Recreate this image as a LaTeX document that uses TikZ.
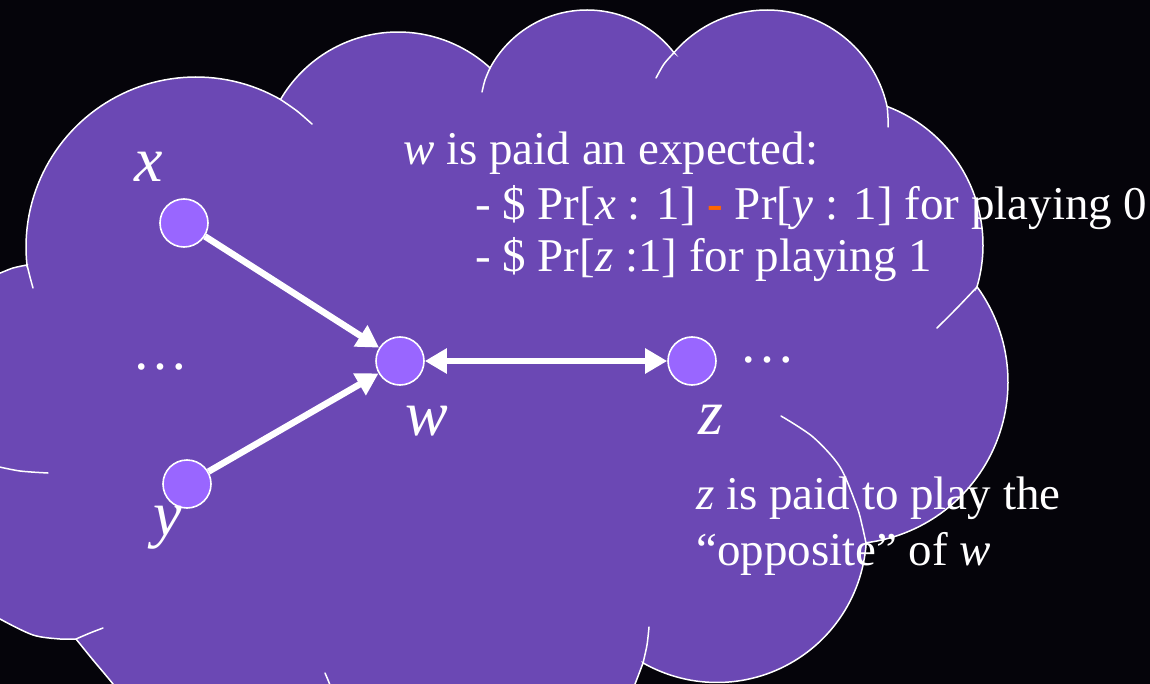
\documentclass[tikz,border=0pt]{standalone}
\usepackage{fontspec}
\setmainfont{Liberation Serif}
\usetikzlibrary{arrows.meta}
\definecolor{bgdark}{RGB}{5,4,10}
\definecolor{cloudpurple}{RGB}{107,72,180}
\definecolor{vertexpurple}{RGB}{153,102,255}
\definecolor{accent}{RGB}{255,102,0}

\tikzset{fattip/.tip={Triangle[length=22pt,width=24pt]}}

\begin{document}
\begin{tikzpicture}[x=1pt,y=-1pt,
  vertex/.style={circle, fill=vertexpurple, draw=white, line width=1.6pt,
                 minimum size=48pt, inner sep=0pt},
  edge/.style={white, line width=6.5pt},
  lbl/.style={text=white, font=\fontsize{64}{70}\selectfont\itshape,
              inner sep=0pt, anchor=base},
  body/.style={text=white, font=\fontsize{47}{54}\selectfont,
               inner sep=0pt, anchor=base west},
  dotrow/.style={text=white, font=\fontsize{56}{60}\selectfont,
                 inner sep=0pt, anchor=base},
  rim/.style={white, line width=1.5pt, line cap=round},
  lobe/.style={samples=60, variable=\t},
]
\useasboundingbox (0,0) rectangle (1150,684);
\fill[bgdark] (0,0) rectangle (1150,684);

\begin{scope}
\clip (0,0) rectangle (1150,684);
% outer outline of the cloud: one circular arc per lobe
\path[fill=cloudpurple, draw=white, line width=1.5pt, line join=miter]
  (-20,286)
  -- plot[smooth] coordinates {(-2,274) (13,268) (27,265)}
  -- plot[lobe, domain=173.9:299.8] ({196+170*cos(\t)},{247+170*sin(\t)})
  -- plot[lobe, domain=210.25:312.6] ({398+136*cos(\t)},{168+136*sin(\t)})
  -- plot[lobe, domain=208.2:322.3] ({587+110*cos(\t)},{120+110*sin(\t)})
  -- plot[lobe, domain=220.8:347.5] ({767+123*cos(\t)},{133+123*sin(\t)})
  -- plot[lobe, domain=290.6:376.5] ({835+148*cos(\t)},{245+148*sin(\t)})
  -- plot[lobe, domain=-36:82.8] ({846+162*cos(\t)},{382+162*sin(\t)})
  -- plot[lobe, domain=3.8:119.7] ({717+149.5*cos(\t)},{533+149.5*sin(\t)})
  -- plot[smooth] coordinates {(643,663) (635,684) (626,705)}
  -- (626,720) -- (130,720)
  -- plot[smooth] coordinates {(128,705) (113,684) (93,660) (76,639)}
  -- plot[smooth] coordinates {(76,639) (60,639) (33,635) (0,619) (-15,609)}
  -- cycle;
% inner continuations of the lobes
\draw[rim] plot[smooth] coordinates {(27,265) (30,277) (33,288)};
\draw[rim] plot[smooth] coordinates {(280.5,99.5) (297,111) (312,124)};
\draw[rim] plot[smooth] coordinates {(490,68) (485,80) (482,92)};
\draw[rim] plot[smooth] coordinates {(674,52.7) (664,64) (656,78)};
\draw[rim] plot[smooth] coordinates {(887.2,106.4) (888,118) (888,127)};
\draw[rim] plot[smooth] coordinates {(977,287) (957,308) (937,328)};
\draw[rim] plot[smooth] coordinates {(866,543) (862,525) (857,507) (840,467) (813,437) (781,416)};
\draw[rim] plot[smooth] coordinates {(643,663) (647,645) (649,627)};
\draw[rim] plot[smooth] coordinates {(325,673) (328,680) (332,690)};
\draw[rim] plot[smooth] coordinates {(76,639) (90,633) (103,628)};
\draw[rim] plot[smooth] coordinates {(-5,466) (20,471) (48,473)};
\end{scope}

% graph vertices
\node[vertex] (x) at (184,223) {};
\node[vertex] (w) at (400,361) {};
\node[vertex] (z) at (692,361) {};
\node[vertex] (y) at (187,484) {};

% edges
\draw[edge, -fattip] (x) -- (w);
\draw[edge, -fattip] (y) -- (w);
\draw[edge, fattip-fattip] (w) -- (z);

% vertex names
\node[lbl] (xname) at (149,182) {x};
\node[lbl] (yname) at (168,535) {y};
\node[lbl] (wname) at (427,435) {w};
\node[lbl] (zname) at (711,434) {z};

\node[dotrow] (ldots) at (160,369) {…};
\node[dotrow] (rdots) at (767,362) {…};

% payment rules
\node[body] (t1) at (403,165) {\textit{w} is paid an expected:};
\node[body] (t2) at (475,220) {- \$ Pr[\textit{x} : 1] {\color{accent}\textbf{-}} Pr[\textit{y} : 1] for playing 0};
\node[body] (t3) at (475,272) {- \$ Pr[\textit{z} :1] for playing 1};
\node[body] (b1) at (696,509) {\textit{z} is paid to play the};
\node[body] (b2) at (696,565) {“opposite” of \textit{w}};
\end{tikzpicture}
\end{document}
